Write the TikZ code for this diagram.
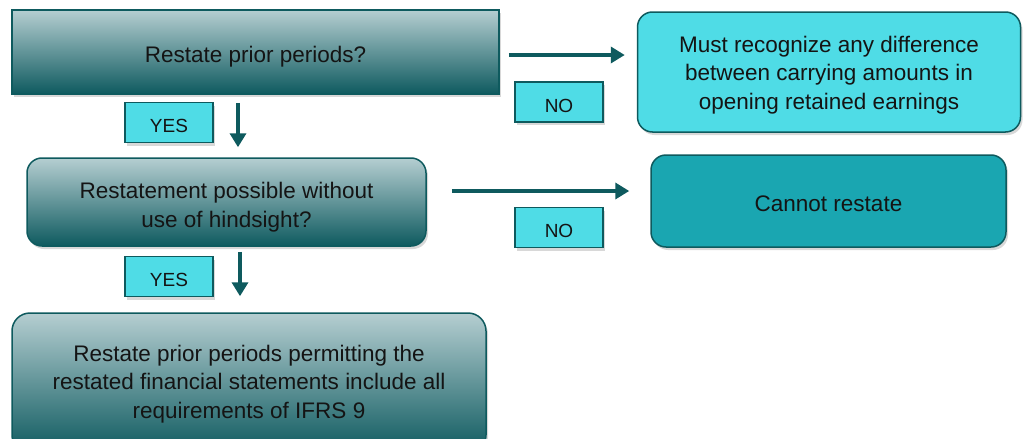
\documentclass[tikz,border=0pt]{standalone}
\usepackage{fontspec}
\setmainfont{Liberation Sans}
\usetikzlibrary{shadows,arrows.meta,calc}
\definecolor{dteal}{HTML}{0E5A5E}
\definecolor{lcyan}{HTML}{4FDCE6}
\definecolor{mteal}{HTML}{1AA6B1}
\definecolor{gtop}{HTML}{B5CED1}
\definecolor{gbot}{HTML}{0E5A5F}
\definecolor{txt}{HTML}{141414}
\tikzset{
  shadowed/.style={drop shadow={shadow xshift=2pt,shadow yshift=-3pt,opacity=0.3}},
  gradbox/.style={shadowed,draw=dteal,line width=1.5pt,top color=gtop,bottom color=gbot,inner sep=0pt},
  cyanbox/.style={shadowed,draw=dteal,line width=1.5pt,fill=lcyan,rounded corners=15pt,inner sep=0pt},
  tealbox/.style={shadowed,draw=dteal,line width=1.5pt,fill=mteal,rounded corners=15pt,inner sep=0pt},
  btext/.style={text=txt,align=center,font=\fontsize{22.5}{28.5}\selectfont,inner sep=0pt},
  lbl/.style={shadowed,draw=dteal,line width=1.5pt,fill=lcyan,minimum width=88pt,minimum height=40pt,
    text=txt,font=\fontsize{19}{22}\selectfont,inner sep=0pt,text height=20pt,text depth=0pt},
  arr/.style={draw=dteal,line width=4.5pt,-{Triangle[length=14pt,width=16pt]}}
}
\begin{document}
\begin{tikzpicture}[x=1pt,y=-1pt]
\clip (0,0) rectangle (1023,439);
\fill[white] (0,0) rectangle (1023,439);
\node[gradbox,minimum width=487pt,minimum height=84pt] (b1) at (255.5,52) {};
\node[cyanbox,minimum width=383pt,minimum height=120pt] (r1) at (829,72) {};
\node[gradbox,rounded corners=15pt,minimum width=399pt,minimum height=88pt] (b2) at (226.5,202) {};
\node[tealbox,minimum width=355pt,minimum height=92pt] (r2) at (828.5,201) {};
\node[gradbox,rounded corners=18pt,minimum width=474pt,minimum height=140pt] (b3) at (249,383) {};
\node[btext] (t1) at ([yshift=-5pt]b1.center) {Restate prior periods?};
\node[btext] (tr1) at ([yshift=-3pt]r1.center) {Must recognize any difference\\between carrying amounts in\\opening retained earnings};
\node[btext] (t2) at ([yshift=-5pt]b2.center) {Restatement possible without\\use of hindsight?};
\node[btext] (tr2) at ([yshift=-3pt]r2.center) {Cannot restate};
\node[btext] (t3) at (249,384) {Restate prior periods permitting the\\restated financial statements include all\\requirements of IFRS 9};
\node[lbl] (no1) at (559,102) {NO};
\node[lbl] (no2) at (559,227.5) {NO};
\node[lbl] (yes1) at (169,122.5) {YES};
\node[lbl] (yes2) at (169,276.5) {YES};
\draw[arr,shorten <=9pt,shorten >=12pt] ([yshift=-3pt]b1.east) -- ([yshift=-3pt]b1.east -| r1.west);
\draw[arr,shorten <=25pt,shorten >=21pt] ([yshift=11pt]b2.east) -- ([yshift=11pt]b2.east -| r2.west);
\draw[arr,shorten <=8pt,shorten >=10pt] ([xshift=-17.5pt]b1.south) -- ([xshift=-17.5pt]b1.south |- b2.north);
\draw[arr,shorten <=5pt,shorten >=16pt] ([xshift=13.5pt]b2.south) -- ([xshift=13.5pt]b2.south |- b3.north);
\end{tikzpicture}
\end{document}
